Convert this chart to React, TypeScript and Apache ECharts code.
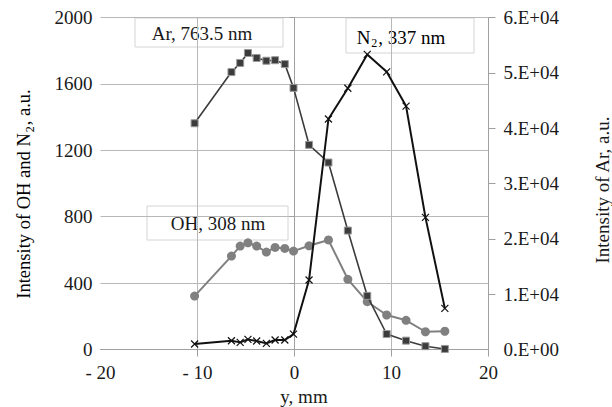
import React, { useEffect, useRef } from "react";
import * as echarts from "echarts";

// x position along the discharge, mm
const positions = [-10.3, -6.5, -5.6, -4.8, -3.9, -2.9, -2.0, -1.0, -0.1, 1.5, 3.5, 5.5, 7.5, 9.5, 11.5, 13.5, 15.5];
// Ar 763.5 nm intensity (right axis)
const arValues = [40900, 50150, 51800, 53600, 52700, 52200, 52300, 51600, 47300, 37000, 33800, 21500, 9700, 2800, 1600, 600, 100];
// OH 308 nm intensity (left axis)
const ohValues = [322, 563, 623, 643, 623, 587, 615, 609, 593, 625, 660, 423, 288, 208, 176, 107, 110];
// N2 337 nm intensity (left axis)
const n2Values = [33, 53, 43, 61, 51, 37, 57, 57, 93, 419, 1389, 1574, 1778, 1673, 1467, 796, 248];

const xTickValues = [-10, 0, 10, 20];
const leftTickValues = [400, 800, 1200, 1600, 2000];
const rightTickValues = [10000, 20000, 30000, 40000, 50000, 60000];

const FONT = "Liberation Serif";
const GRID_COLOR = "#b8b8b8";
const AXIS_COLOR = "#a0a0a0";

const zip = (xs: number[], ys: number[]) => xs.map((x, i) => [x, ys[i]]);

export default function App() {
  const ref = useRef<HTMLDivElement>(null);
  useEffect(() => {
    if (!ref.current) return;
    const chart = echarts.init(ref.current, undefined, { renderer: "svg" });
    const labelStyle = { fontFamily: FONT, fontSize: 19, color: "#1a1a1a" };
    chart.setOption({
      animation: false,
      backgroundColor: "#ffffff",
      grid: { left: 100.5, right: 123.5, top: 17.6, bottom: 57.5, containLabel: false },
      xAxis: {
        type: "value",
        min: -20,
        max: 20,
        interval: 10,
        axisLine: { show: true, onZero: false, lineStyle: { color: AXIS_COLOR, width: 1 } },
        axisTick: { show: true, inside: false, length: 7, customValues: xTickValues, lineStyle: { color: AXIS_COLOR } },
        axisLabel: {
          ...labelStyle,
          margin: 13,
          formatter: (v: number) => (v < 0 ? "- " + -v : String(v)),
        },
        splitLine: { show: true, lineStyle: { color: GRID_COLOR, width: 1 } },
      },
      yAxis: [
        {
          type: "value",
          min: 0,
          max: 2000,
          interval: 400,
          axisLine: { show: true, lineStyle: { color: AXIS_COLOR, width: 1 } },
          axisTick: { show: true, inside: false, length: 5, customValues: leftTickValues, lineStyle: { color: AXIS_COLOR } },
          axisLabel: { ...labelStyle, margin: 8, formatter: (v: number) => String(v) },
          splitLine: { show: true, lineStyle: { color: GRID_COLOR, width: 1 } },
        },
        {
          type: "value",
          min: 0,
          max: 60000,
          interval: 10000,
          position: "right",
          axisLine: { show: true, lineStyle: { color: AXIS_COLOR, width: 1 } },
          axisTick: { show: true, inside: false, length: 7, customValues: rightTickValues, lineStyle: { color: AXIS_COLOR } },
          axisLabel: {
            ...labelStyle,
            margin: 15,
            formatter: (v: number) => (v === 0 ? "0.E+00" : (v / 10000).toFixed(0) + ".E+04"),
          },
          splitLine: { show: false },
        },
      ],
      series: [
        {
          name: "OH, 308 nm",
          type: "line",
          yAxisIndex: 0,
          data: zip(positions, ohValues),
          symbol: "circle",
          symbolSize: 9,
          lineStyle: { color: "#808080", width: 2 },
          itemStyle: { color: "#808080", borderWidth: 0 },
          z: 2,
        },
        {
          name: "Ar, 763.5 nm",
          type: "line",
          yAxisIndex: 1,
          data: zip(positions, arValues),
          symbol: "rect",
          symbolSize: 7,
          lineStyle: { color: "#3c3c3c", width: 1.6 },
          itemStyle: { color: "#3c3c3c", borderColor: "#9a9a9a", borderWidth: 1 },
          z: 3,
        },
        {
          name: "N2, 337 nm",
          type: "line",
          yAxisIndex: 0,
          data: zip(positions, n2Values),
          symbol: "path://M0,0L10,10M10,0L0,10",
          symbolSize: 7,
          lineStyle: { color: "#111111", width: 2 },
          itemStyle: { color: "#111111", borderColor: "#111111", borderWidth: 1.2 },
          z: 4,
        },
      ],
      graphic: [
        {
          type: "group",
          z: 100,
          children: [
            { type: "rect", shape: { x: 135, y: 18, width: 148, height: 29 }, style: { fill: "#ffffff", stroke: "#d4d4d4", lineWidth: 1 } },
            {
              type: "text",
              x: 202,
              y: 33,
              style: { text: "Ar, 763.5 nm", fontFamily: FONT, fontSize: 19, fill: "#1a1a1a", textAlign: "center", textVerticalAlign: "middle" },
            },
            { type: "rect", shape: { x: 346, y: 18, width: 128, height: 35 }, style: { fill: "#ffffff", stroke: "#d4d4d4", lineWidth: 1 } },
            {
              type: "text",
              x: 401,
              y: 37,
              style: {
                text: "{a|N}{s|2}{a|, 337 nm}",
                textAlign: "center",
                textVerticalAlign: "middle",
                rich: {
                  a: { fontFamily: FONT, fontSize: 19, color: "#1a1a1a", lineHeight: 24, verticalAlign: "middle" },
                  s: { fontFamily: FONT, fontSize: 12, color: "#1a1a1a", lineHeight: 12, verticalAlign: "bottom", padding: [0, 1, 0, 1] },
                },
              },
            },
            { type: "rect", shape: { x: 147, y: 206, width: 141, height: 34 }, style: { fill: "#ffffff", stroke: "#d4d4d4", lineWidth: 1 } },
            {
              type: "text",
              x: 218,
              y: 223,
              style: { text: "OH, 308 nm", fontFamily: FONT, fontSize: 19, fill: "#1a1a1a", textAlign: "center", textVerticalAlign: "middle" },
            },
            {
              type: "text",
              x: 24,
              y: 194,
              rotation: Math.PI / 2,
              style: {
                text: "{a|Intensity of OH and N}{s|2}{a|, a.u.}",
                textAlign: "center",
                textVerticalAlign: "middle",
                rich: {
                  a: { fontFamily: FONT, fontSize: 18.5, color: "#1a1a1a", lineHeight: 24, verticalAlign: "middle" },
                  s: { fontFamily: FONT, fontSize: 12, color: "#1a1a1a", lineHeight: 12, verticalAlign: "bottom", padding: [0, 1, 0, 1] },
                },
              },
            },
            {
              type: "text",
              x: 602,
              y: 190,
              rotation: Math.PI / 2,
              style: { text: "Intensity of Ar, a.u.", fontFamily: FONT, fontSize: 19, fill: "#1a1a1a", textAlign: "center", textVerticalAlign: "middle" },
            },
            {
              type: "text",
              x: 304,
              y: 396,
              style: { text: "y, mm", fontFamily: FONT, fontSize: 19, fill: "#1a1a1a", textAlign: "center", textVerticalAlign: "middle" },
            },
          ],
        },
      ],
    });
    return () => chart.dispose();
  }, []);
  return <div ref={ref} style={{ position: "absolute", left: 0, top: 0, width: 612, height: 407 }} />;
}
